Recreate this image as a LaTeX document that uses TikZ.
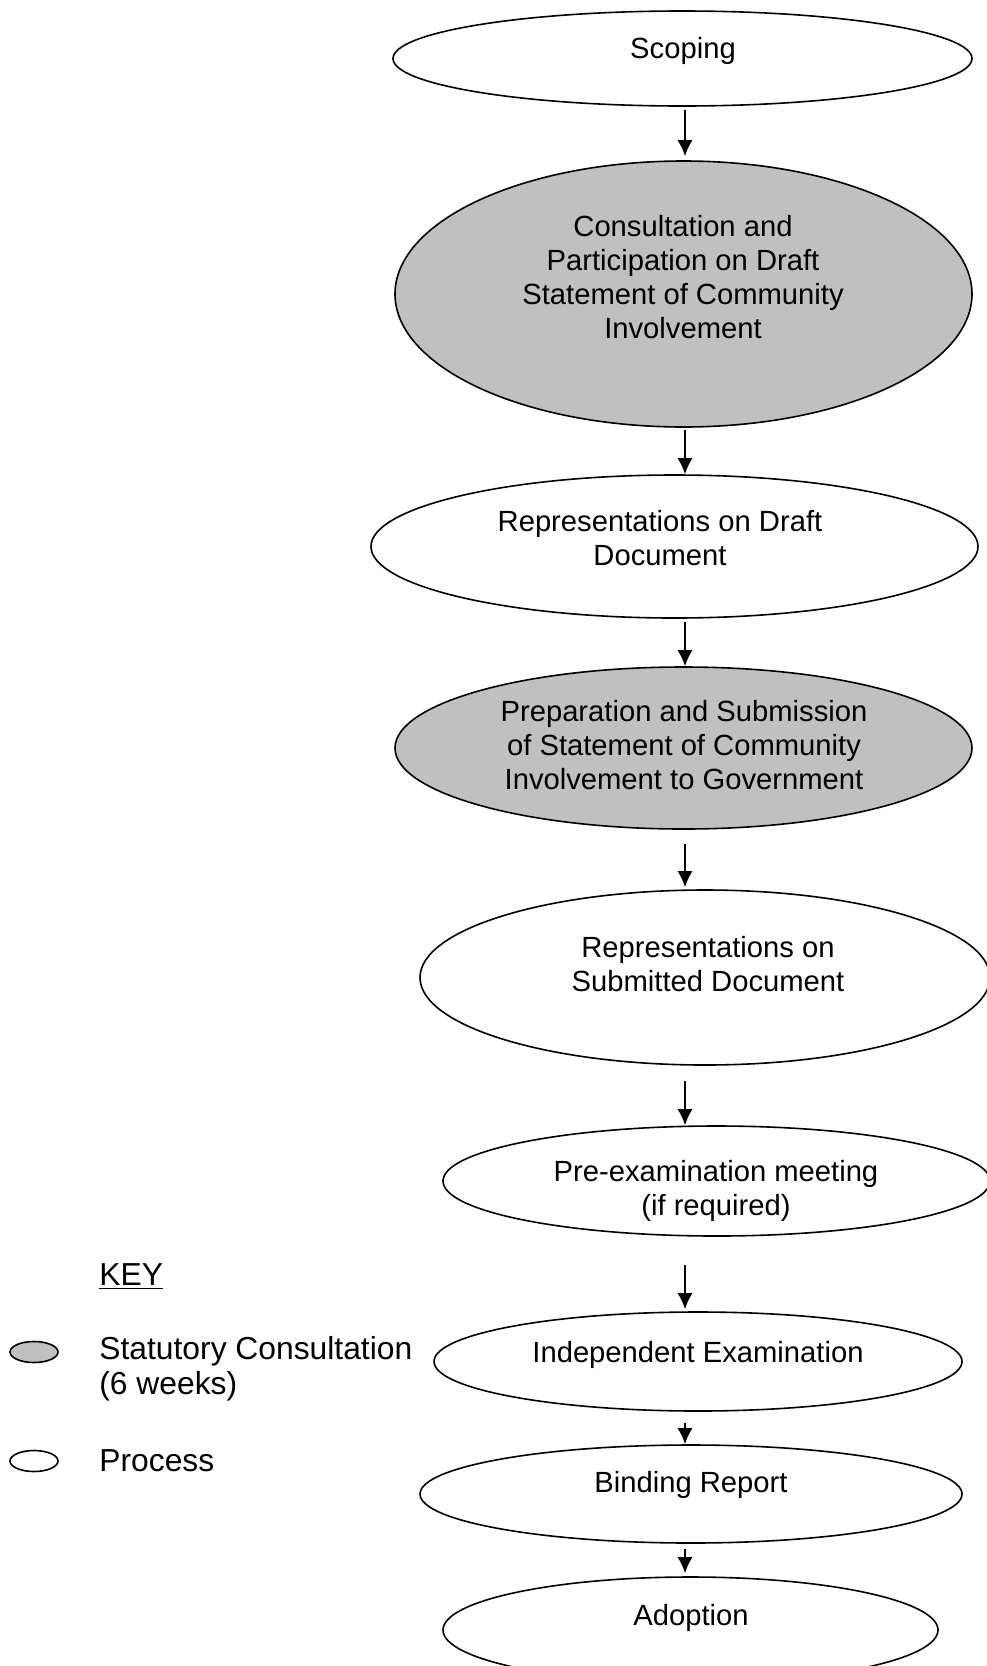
\documentclass[tikz,border=0pt]{standalone}
\usepackage{fontspec}
\setmainfont{Liberation Sans}
\usepackage{xcolor}
\usepackage{tikz}
\usetikzlibrary{positioning,shapes.geometric,arrows.meta}

\definecolor{statgray}{RGB}{192,192,192}

\begin{document}
\begin{tikzpicture}[x=0.5pt, y=-0.5pt,
		process/.style={ellipse, draw, line width=0.8pt, fill=white, inner sep=0pt},
		statutory/.style={process, fill=statgray},
		flow/.style={-{Latex[length=8pt,width=7.5pt]}, line width=0.8pt},
		txt/.style={inner sep=0pt, align=center, font=\fontsize{14.6}{17}\selectfont},
		keytxt/.style={txt, anchor=west, align=left, font=\fontsize{15.9}{17.6}\selectfont}]

			\useasboundingbox (0,0) rectangle (986,1666);
			\coordinate (axis) at (685,0);

			% stages of the process
			\node[process, minimum width=289.5pt, minimum height=47.5pt] (scoping) at (682.5,58.5) {};
			\node[statutory, minimum width=288.5pt, minimum height=133pt] (consult) at (683.5,294) {};
			\node[process, minimum width=303.5pt, minimum height=71.5pt] (draft) at (674.5,546.5) {};
			\node[statutory, minimum width=288.5pt, minimum height=81pt] (prep) at (683.5,748) {};
			\node[process, minimum width=285pt, minimum height=87.5pt] (submit) at (705,977.5) {};
			\node[process, minimum width=273.5pt, minimum height=55pt] (premeet) at (716.5,1181) {};
			\node[process, minimum width=264pt, minimum height=49.5pt] (indep) at (698,1361.5) {};
			\node[process, minimum width=271pt, minimum height=49pt] (binding) at (691,1494) {};
			\node[process, minimum width=247.5pt, minimum height=53pt] (adopt) at (690.5,1630) {};

			% texts of the stages
			\node[txt] (scoping-t) at (683,51) {Scoping};
			\node[txt] (consult-t) at (683,277) {Consultation and\\Participation on Draft\\Statement of Community\\Involvement};
			\node[txt] (draft-t) at (660,538.5) {Representations on Draft\\Document};
			\node[txt] (prep-t) at (684,745) {Preparation and Submission\\of Statement of Community\\Involvement to Government};
			\node[txt] (submit-t) at (708,964.5) {Representations on\\Submitted Document};
			\node[txt] (premeet-t) at (716,1191) {Pre-examination meeting\\(if required)};
			\node[txt] (indep-t) at (698,1355) {Independent Examination};
			\node[txt] (binding-t) at (691,1485) {Binding Report};
			\node[txt] (adopt-t) at (691,1618) {Adoption};

			% arrows between stages
			\draw[flow, shorten <=1.5pt, shorten >=2pt] (axis |- scoping.south) -- (axis |- consult.north);
			\draw[flow, shorten <=1pt] (axis |- consult.south) -- (axis |- draft.north);
			\draw[flow, shorten <=1.5pt] (axis |- draft.south) -- (axis |- prep.north);
			\draw[flow, shorten <=7pt, shorten >=1pt] (axis |- prep.south) -- (axis |- submit.north);
			\draw[flow, shorten <=7.5pt] (axis |- submit.south) -- (axis |- premeet.north);
			\draw[flow, shorten <=14pt, shorten >=1pt] (axis |- premeet.south) -- (axis |- indep.north);
			\draw[flow, shorten <=5.5pt] (axis |- indep.south) -- (axis |- binding.north);
			\draw[flow, shorten <=2.5pt, shorten >=1.5pt] (axis |- binding.south) -- (axis |- adopt.north);

			% key
			\node[keytxt] (key) at (99,1277) {\underline{KEY}};
			\node[statutory, minimum width=24pt, minimum height=10.5pt] (key-stat) at (34,1352) {};
			\node[keytxt] (key-stat-t) at (99,1369) {Statutory Consultation\\(6 weeks)};
			\node[process, minimum width=24pt, minimum height=10.5pt] (key-proc) at (34,1461) {};
			\node[keytxt] (key-proc-t) at (99,1461) {Process};

		\end{tikzpicture}
\end{document}
